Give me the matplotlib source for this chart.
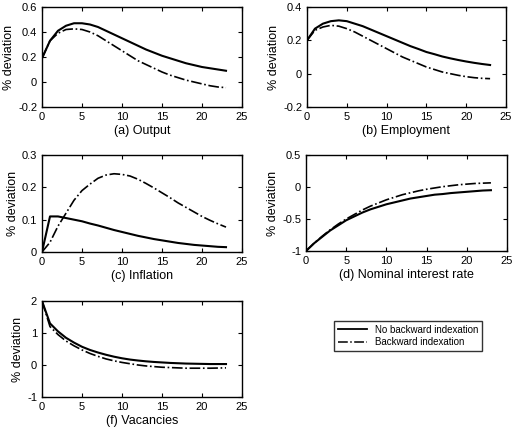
import matplotlib
matplotlib.use('Agg')
import matplotlib.pyplot as plt

plt.rcParams['font.family'] = ['Liberation Sans', 'DejaVu Sans']

quarters = list(range(24))

output_nbi = [0.19, 0.33, 0.41, 0.45, 0.47, 0.47, 0.46, 0.44, 0.41, 0.38, 0.35, 0.32,
              0.29, 0.26, 0.235, 0.21, 0.19, 0.17, 0.15, 0.135, 0.12, 0.11, 0.10, 0.09]
output_bi = [0.19, 0.33, 0.39, 0.42, 0.425, 0.42, 0.40, 0.37, 0.33, 0.29, 0.25, 0.21,
             0.17, 0.14, 0.11, 0.08, 0.055, 0.035, 0.015, 0.0, -0.015, -0.03, -0.04, -0.045]

employ_nbi = [0.2, 0.27, 0.30, 0.315, 0.32, 0.315, 0.30, 0.285, 0.265, 0.245, 0.225, 0.205,
              0.185, 0.165, 0.148, 0.13, 0.117, 0.103, 0.092, 0.082, 0.073, 0.065, 0.058, 0.052]
employ_bi = [0.2, 0.26, 0.28, 0.29, 0.285, 0.27, 0.25, 0.225, 0.20, 0.175, 0.15, 0.125,
             0.10, 0.08, 0.06, 0.04, 0.025, 0.01, 0.0, -0.01, -0.018, -0.024, -0.028, -0.03]

infl_nbi = [0.0, 0.11, 0.11, 0.105, 0.10, 0.095, 0.088, 0.082, 0.075, 0.068, 0.062, 0.056,
            0.05, 0.045, 0.04, 0.036, 0.032, 0.028, 0.025, 0.022, 0.02, 0.018, 0.016, 0.015]
infl_bi = [0.0, 0.03, 0.08, 0.12, 0.16, 0.19, 0.21, 0.228, 0.238, 0.242, 0.24, 0.235,
           0.225, 0.212, 0.198, 0.183, 0.168, 0.152, 0.138, 0.124, 0.11, 0.098, 0.087, 0.077]

rate_nbi = [-1.0, -0.88, -0.78, -0.68, -0.6, -0.52, -0.46, -0.4, -0.35, -0.31, -0.27, -0.24,
            -0.21, -0.18, -0.16, -0.14, -0.12, -0.11, -0.095, -0.085, -0.075, -0.065, -0.055, -0.05]
rate_bi = [-1.0, -0.88, -0.77, -0.67, -0.58, -0.5, -0.43, -0.36, -0.3, -0.25, -0.2, -0.16,
           -0.12, -0.09, -0.06, -0.035, -0.015, 0.005, 0.02, 0.035, 0.045, 0.055, 0.06, 0.065]

vac_nbi = [2.0, 1.3, 1.05, 0.85, 0.7, 0.57, 0.47, 0.39, 0.32, 0.26, 0.21, 0.17,
           0.14, 0.115, 0.095, 0.08, 0.065, 0.055, 0.045, 0.04, 0.035, 0.03, 0.03, 0.03]
vac_bi = [2.0, 1.2, 0.95, 0.75, 0.6, 0.47, 0.36, 0.27, 0.19, 0.13, 0.08, 0.04,
          0.0, -0.03, -0.05, -0.07, -0.08, -0.09, -0.1, -0.1, -0.1, -0.1, -0.095, -0.09]

panels = [
    ('(a) Output', output_nbi, output_bi, (-0.2, 0.6), [-0.2, 0, 0.2, 0.4, 0.6], ['-0.2', '0', '0.2', '0.4', '0.6']),
    ('(b) Employment', employ_nbi, employ_bi, (-0.2, 0.4), [-0.2, 0, 0.2, 0.4], ['-0.2', '0', '0.2', '0.4']),
    ('(c) Inflation', infl_nbi, infl_bi, (0, 0.3), [0, 0.1, 0.2, 0.3], ['0', '0.1', '0.2', '0.3']),
    ('(d) Nominal interest rate', rate_nbi, rate_bi, (-1, 0.5), [-1, -0.5, 0, 0.5], ['-1', '-0.5', '0', '0.5']),
    ('(f) Vacancies', vac_nbi, vac_bi, (-1, 2), [-1, 0, 1, 2], ['-1', '0', '1', '2']),
]

# axes rectangles in pixels (left, top, right, bottom)
W, H = 517, 443
boxes = [(42, 7, 242, 107), (307, 7, 506, 107),
         (42, 155, 242, 252), (306, 155, 507, 251),
         (42, 301, 242, 397)]

fig = plt.figure(figsize=(W / 100, H / 100), dpi=100)

for (title, nbi, bi, ylim, yt, ytl), (l, t, r, b) in zip(panels, boxes):
    ax = fig.add_axes([l / W, 1 - b / H, (r - l) / W, (b - t) / H])
    ax.plot(quarters, nbi, color='black', lw=1.5, ls='-')
    ax.plot(quarters, bi, color='black', lw=1.2, ls='-.')
    ax.set_xlim(0, 25)
    ax.set_ylim(*ylim)
    ax.set_xticks([0, 5, 10, 15, 20, 25])
    ax.set_yticks(yt)
    ax.set_yticklabels(ytl)
    ax.tick_params(direction='in', top=True, right=True, labelsize=8, length=3, width=0.8)
    ax.set_ylabel('% deviation', fontsize=9, labelpad=2)
    ax.set_xlabel(title, fontsize=9, labelpad=2)
    for s in ax.spines.values():
        s.set_linewidth(1.0)

# legend
lax = fig.add_axes([336 / W, 1 - 351 / H, 144 / W, 30 / H])
lax.axis('off')
h1, = lax.plot([], [], color='black', lw=1.3, ls='-')
h2, = lax.plot([], [], color='black', lw=1.1, ls='-.')
leg = lax.legend([h1, h2], ['No backward indexation', 'Backward indexation'],
                 loc='center', fontsize=7, frameon=True, fancybox=False,
                 edgecolor='black', handlelength=3, borderpad=0.4, labelspacing=0.3)
leg.get_frame().set_linewidth(1.0)

fig.savefig('out.png', dpi=100)
